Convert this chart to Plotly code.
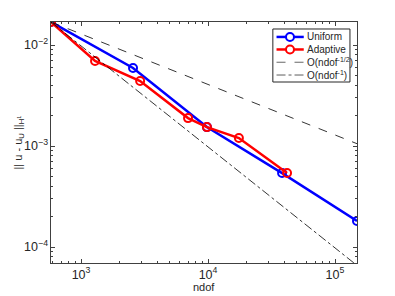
import numpy as np
import plotly.graph_objects as go

uni_ndof = [580, 2567, 9800, 38300, 149000]
uni_err = [0.0169, 0.00592, 0.00154, 0.00054, 0.000181]
ada_ndof = [580, 1289, 2920, 6960, 9800, 17500, 41900]
ada_err = [0.0169, 0.00695, 0.0044, 0.00189, 0.00154, 0.0012, 0.00054]
legend_names = ["Uniform", "Adaptive", "O(ndof<sup>-1/2</sup>)", "O(ndof<sup>-1</sup>)"]
x_label = "ndof"
y_label = "|| u - u<sub>U</sub> ||<sub>H<sup>1</sup></sub>"

x0, y0 = uni_ndof[0], uni_err[0]
ref_x = [uni_ndof[0], uni_ndof[-1]]
ref_half = [y0 * (x / x0) ** -0.5 for x in ref_x]
ref_one = [y0 * (x / x0) ** -1.0 for x in ref_x]

fig = go.Figure()
fig.add_trace(go.Scatter(x=uni_ndof, y=uni_err, mode="lines+markers", name=legend_names[0],
                         line=dict(color="#0000ff", width=2.5),
                         marker=dict(symbol="circle-open", size=8, color="#0000ff", line=dict(width=2))))
fig.add_trace(go.Scatter(x=ada_ndof, y=ada_err, mode="lines+markers", name=legend_names[1],
                         line=dict(color="#ff0000", width=2.5),
                         marker=dict(symbol="circle-open", size=8, color="#ff0000", line=dict(width=2))))
fig.add_trace(go.Scatter(x=ref_x, y=ref_half, mode="lines", name=legend_names[2],
                         line=dict(color="black", width=0.8, dash="dash")))
fig.add_trace(go.Scatter(x=ref_x, y=ref_one, mode="lines", name=legend_names[3],
                         line=dict(color="black", width=0.8, dash="dashdot")))

# compact MATLAB-style legend box
styles = [dict(color="#0000ff", width=2.5, dash="solid", marker=True),
          dict(color="#ff0000", width=2.5, dash="solid", marker=True),
          dict(color="#666666", width=1, dash="dash", marker=False),
          dict(color="#333333", width=0.8, dash="dashdot", marker=False)]
bx0, bx1, by0, by1 = 0.725, 0.977, 0.751, 0.971
shapes = [dict(type="rect", xref="paper", yref="paper", x0=bx0, x1=bx1, y0=by0, y1=by1,
               line=dict(color="#262626", width=1), fillcolor="white", layer="above")]
annotations = []
rows = [0.938, 0.886, 0.833, 0.780]
for name, st, ry in zip(legend_names, styles, rows):
    shapes.append(dict(type="line", xref="paper", yref="paper", x0=0.737, x1=0.826, y0=ry, y1=ry,
                       line=dict(color=st["color"], width=st["width"], dash=st["dash"]), layer="above"))
    if st["marker"]:
        shapes.append(dict(type="circle", xref="paper", yref="paper", xsizemode="pixel", ysizemode="pixel",
                           xanchor=0.781, yanchor=ry, x0=-4, x1=4, y0=-4, y1=4,
                           line=dict(color=st["color"], width=2), fillcolor="white", layer="above"))
    annotations.append(dict(xref="paper", yref="paper", x=0.829, y=ry, text=name, showarrow=False,
                            xanchor="left", yanchor="middle", font=dict(size=10, color="#262626")))

annotations.append(dict(xref="paper", yref="paper", x=0.5, y=0, yshift=-24, text=x_label, showarrow=False,
                        xanchor="center", yanchor="middle", font=dict(size=11, color="#262626")))
annotations.append(dict(xref="paper", yref="paper", x=0, y=0.5, xshift=-33, text=y_label, showarrow=False,
                        textangle=-90, xanchor="center", yanchor="middle", font=dict(size=11, color="#262626")))

axis_common = dict(type="log", showgrid=False, zeroline=False, showline=True, linecolor="#404040",
                   linewidth=1, mirror="ticks", ticks="inside", ticklen=4, tickcolor="#404040",
                   exponentformat="power", dtick=1, automargin=False,
                   minor=dict(ticks="inside", ticklen=2, tickcolor="#404040", showgrid=False),
                   tickfont=dict(size=10, color="#262626"))

fig.update_layout(
    width=387, height=288,
    margin=dict(l=43, r=38, t=14, b=33),
    paper_bgcolor="white", plot_bgcolor="white",
    font=dict(family="Liberation Sans, Arial, sans-serif", size=10, color="#262626"),
    xaxis=dict(axis_common, range=[np.log10(580), np.log10(149000)]),
    yaxis=dict(axis_common, range=[np.log10(6.95e-5), np.log10(0.0169)]),
    shapes=shapes, annotations=annotations,
    showlegend=False,
)
fig.write_html("out.html")
